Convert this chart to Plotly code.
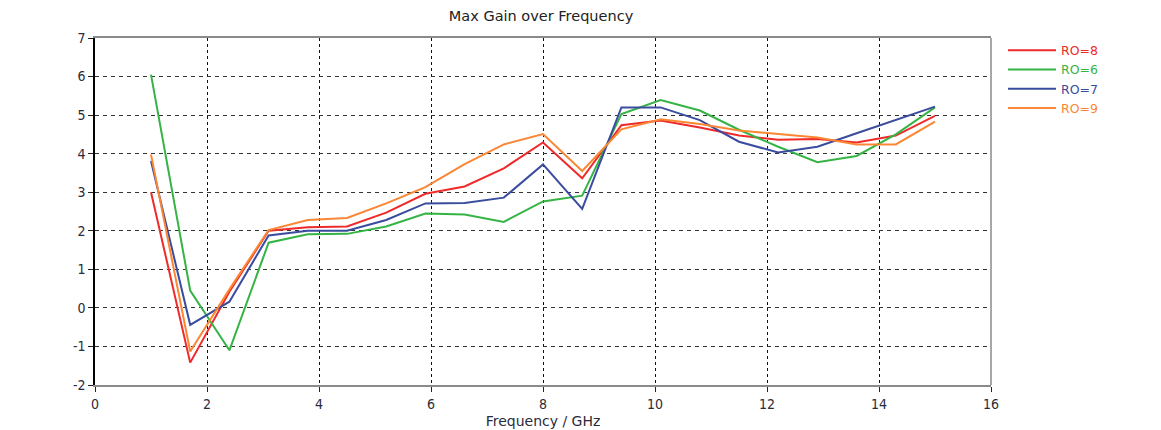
import plotly.graph_objects as go

# Frequency sweep points (GHz)
freq = [1.0, 1.7, 2.4, 3.1, 3.8, 4.5, 5.2, 5.9, 6.6, 7.3, 8.0,
        8.7, 9.4, 10.1, 10.8, 11.5, 12.2, 12.9, 13.6, 14.3, 15.0]

# Max gain (dBi) for each RO value
gain_ro8 = [3.00, -1.42, 0.42, 2.00, 2.09, 2.11, 2.47, 2.96, 3.15, 3.62, 4.29,
            3.36, 4.74, 4.86, 4.68, 4.47, 4.36, 4.38, 4.29, 4.47, 4.98]
gain_ro6 = [6.05, 0.45, -1.10, 1.69, 1.91, 1.92, 2.11, 2.45, 2.42, 2.23, 2.76,
            2.91, 5.03, 5.39, 5.12, 4.62, 4.18, 3.78, 3.94, 4.50, 5.20]
gain_ro7 = [3.81, -0.44, 0.16, 1.88, 2.00, 2.00, 2.28, 2.71, 2.72, 2.86, 3.72,
            2.57, 5.20, 5.20, 4.87, 4.31, 4.03, 4.18, 4.53, 4.87, 5.22]
gain_ro9 = [3.98, -1.13, 0.48, 2.02, 2.28, 2.33, 2.71, 3.13, 3.73, 4.24, 4.51,
            3.55, 4.63, 4.89, 4.77, 4.60, 4.51, 4.42, 4.24, 4.24, 4.83]

# Axis ticks
x_ticks = [0, 2, 4, 6, 8, 10, 12, 14, 16]
y_ticks = [-2, -1, 0, 1, 2, 3, 4, 5, 6, 7]
y_tick_text = ["-2", "-1", "0", "1", "2", "3", "4", "5", "6", "7"]

series = [
    ("RO=8", gain_ro8, "#ee2a2a"),
    ("RO=6", gain_ro6, "#35b445"),
    ("RO=7", gain_ro7, "#3a4c9e"),
    ("RO=9", gain_ro9, "#fb8634"),
]

FONT = "DejaVu Sans Condensed, DejaVu Sans, sans-serif"
WIDE = "DejaVu Sans, sans-serif"

fig = go.Figure()
for name, vals, color in series:
    fig.add_trace(go.Scatter(
        x=freq, y=vals, mode="lines",
        name=f"<span style='color:{color}'>{name}</span>",
        line=dict(color=color, width=2),
    ))

fig.update_layout(
    width=1161, height=430,
    margin=dict(l=95, r=170, t=38, b=45, autoexpand=False),
    paper_bgcolor="white", plot_bgcolor="white",
    font=dict(family=FONT, size=13, color="#2b2b3b"),
    title=dict(text="Max Gain over Frequency", x=0.466, xanchor="center",
               y=0.963, yanchor="middle", automargin=False,
               font=dict(family=WIDE, size=14.5, color="#222")),
    legend=dict(x=1.0134, y=1.007, xanchor="left", yanchor="top",
                font=dict(family=WIDE, size=12.5),
                bgcolor="rgba(0,0,0,0)", tracegroupgap=0, itemwidth=48),
    showlegend=True,
)

fig.update_xaxes(
    range=[0, 16], tickvals=x_ticks, automargin=False,
    showline=True, linecolor="#8a8a8a", linewidth=1.5, mirror=True,
    ticks="outside", ticklen=5, tickcolor="#222",
    showgrid=True, gridcolor="#111", griddash="dot", gridwidth=1,
    zeroline=False,
    title=dict(text="Frequency / GHz", standoff=6,
               font=dict(family=WIDE, size=14, color="#2b2b3b")),
    tickfont=dict(family=FONT, size=14, color="#2b2b3b"),
)
fig.update_yaxes(
    range=[-2, 7], tickvals=y_ticks, ticktext=y_tick_text, automargin=False,
    showline=True, linecolor="#000", linewidth=1.5,
    ticks="outside", ticklen=5, tickcolor="#222",
    showgrid=True, gridcolor="#333", griddash="4px,4px", gridwidth=1,
    zeroline=False,
    tickfont=dict(family=FONT, size=14, color="#2b2b3b"),
)

# right border of the plotting frame
fig.add_shape(type="line", xref="paper", yref="paper", x0=1, x1=1, y0=0, y1=1,
              line=dict(color="#8a8a8a", width=1.5))

fig.write_html("out.html")
